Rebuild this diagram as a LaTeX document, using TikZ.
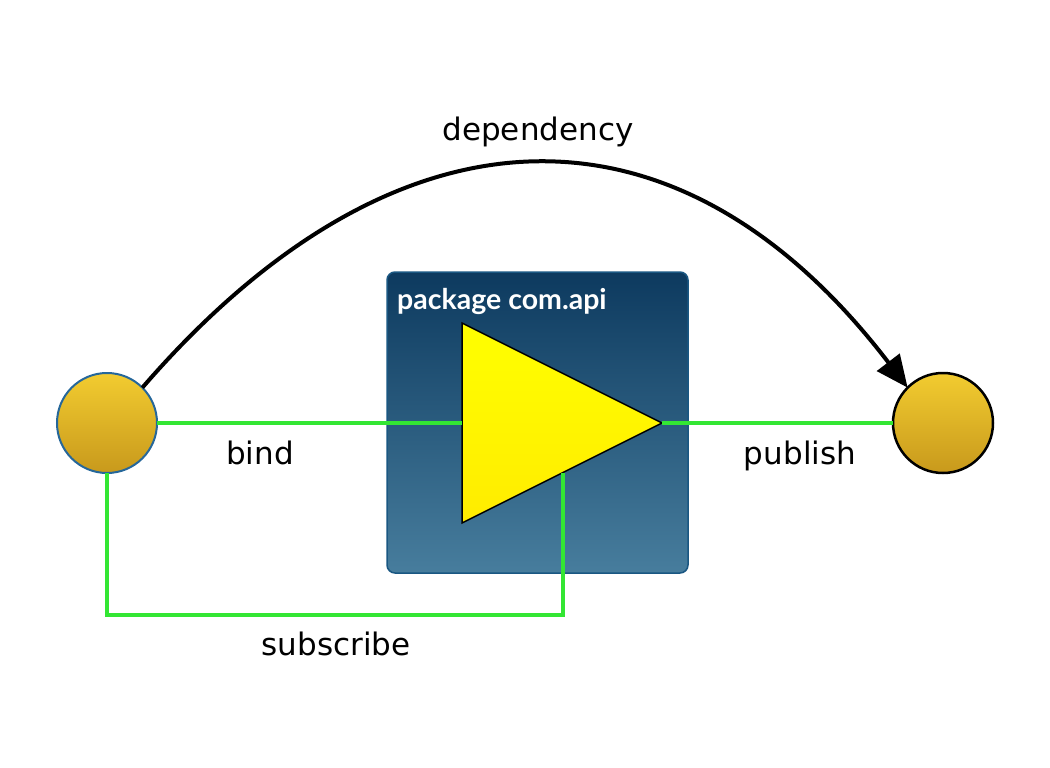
\documentclass[tikz,border=0pt]{standalone}
\usepackage{fontspec}
\setmainfont{DejaVu Sans}
\newfontfamily\pkgfont{Lato}
\usetikzlibrary{shapes.geometric,arrows.meta}
\definecolor{wiregreen}{HTML}{33E633}
\definecolor{balltop}{HTML}{F2CC30}
\definecolor{ballbot}{HTML}{C8991C}
\definecolor{pkgtop}{HTML}{0D3A5F}
\definecolor{pkgbot}{HTML}{477D9D}
\definecolor{pkgline}{HTML}{1A5782}
\definecolor{balledge}{HTML}{26679A}

\begin{document}
\begin{tikzpicture}[x=1pt, y=-1pt,
    wire/.style={draw=wiregreen, line width=4pt},
    ball/.style={circle, minimum size=100pt, inner sep=0pt, outer sep=0pt,
                 top color=balltop, bottom color=ballbot},
    lbl/.style={font=\fontsize{31}{34}\selectfont, anchor=base, inner sep=0pt},
    dep/.style={line width=4pt, -{Triangle[length=32pt,width=28pt]}}]
    \useasboundingbox (0,0) rectangle (1050,768);

    % package box
    \draw [pkgline, line width=1.5pt, rounded corners=8pt, top color=pkgtop, bottom color=pkgbot]
        (387,272) rectangle (688,573);
    \node [font=\pkgfont\bfseries\fontsize{28.5}{30}\selectfont, text=white, anchor=base west, inner sep=0pt] (pkg) at (397,309) {package com.api};

    % the three parts
    \node [ball, draw=balledge, line width=2pt] (src) at (107,423) {};
    \node [ball, draw=black, line width=2.5pt] (dst) at (943,423) {};
    \node [isosceles triangle, isosceles triangle stretches, minimum width=200pt, minimum height=200pt,
           inner sep=0pt, outer sep=0pt, draw, line width=1.5pt, top color=yellow!100!white, bottom color=yellow!85!orange,
           anchor=apex] (tri) at (662,423) {};
    \coordinate (sub) at (563,473);
    \coordinate (sbc) at (563,615);

    \path[wire]
        (src.east) edge (tri.west)
        (tri.apex) edge (dst.west);
    \draw[wire] (src.south) |- (sbc) -- (sub);

    \draw[dep] (src.45) .. controls (400,90) and (680,90) .. (dst.135);

    \node [lbl] (depl) at (538,140) {dependency};
    \node [lbl] (bindl) at (260,464) {bind};
    \node [lbl] (publ) at (800,464) {publish};
    \node [lbl] (subl) at (336,655) {subscribe};
\end{tikzpicture}
\end{document}
